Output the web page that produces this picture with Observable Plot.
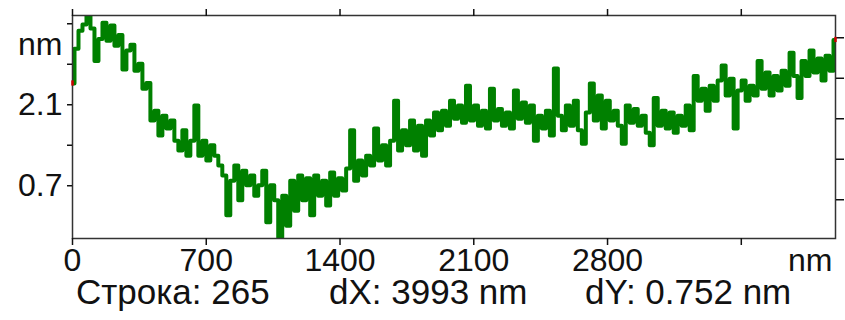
<!DOCTYPE html>
<html><head><meta charset="utf-8">
<script src="https://cdn.jsdelivr.net/npm/d3@7"></script>
<script src="https://cdn.jsdelivr.net/npm/@observablehq/plot@0.6"></script>
<style>
body{margin:0;background:#fff;}
#wrap{position:relative;width:845px;height:320px;font-family:"Liberation Sans",Arial,sans-serif;}
#wrap svg{position:absolute;left:0;top:0;}
.cap{position:absolute;top:281px;font-size:35px;line-height:0.6;color:#111;white-space:nowrap;}
</style></head><body><div id="wrap"></div>
<script>
// Profile heights (nm), evenly sampled along the 3993 nm scan line
const heights = [
2.71,3.31,3.62,3.73,3.88,3.66,3.10,3.48,3.76,3.45,3.71,3.36,3.55,2.95,3.28,3.38,2.93,3.05,2.62,2.72,
2.07,2.24,1.81,2.15,1.93,2.07,1.72,1.55,1.90,1.46,1.72,2.33,1.46,1.72,1.38,1.64,1.46,1.29,1.12,0.43,
1.03,1.29,0.69,1.20,0.95,1.12,0.77,0.95,1.20,0.31,0.95,0.69,0.05,0.77,0.25,1.03,0.51,1.12,0.69,1.07,
0.43,1.12,0.77,1.03,0.60,1.17,0.77,1.07,0.86,1.24,1.90,1.03,1.38,1.12,1.46,1.29,1.93,1.38,1.64,1.29,
1.72,2.41,1.55,1.90,1.64,2.07,1.55,1.98,1.46,2.07,1.81,2.21,1.90,2.24,1.98,2.41,2.10,2.33,2.03,2.67,
2.07,2.33,1.98,2.24,1.93,2.62,2.07,2.27,1.98,2.21,1.93,2.59,2.10,2.38,2.03,2.33,1.72,2.15,1.93,2.24,
1.81,2.97,2.15,1.90,2.33,1.98,2.41,1.90,1.67,2.21,2.71,2.07,2.50,1.93,2.41,2.07,2.24,1.98,1.67,2.33,
2.03,2.27,1.98,2.15,1.86,1.64,2.46,1.98,2.24,1.93,2.21,1.86,2.15,1.98,2.33,1.90,2.84,2.41,2.62,2.24,
2.67,2.41,2.76,3.02,2.50,2.79,1.93,2.59,2.76,2.41,2.67,2.50,3.10,2.62,2.90,2.50,2.84,2.59,2.93,2.67,
3.24,2.84,2.46,3.10,2.84,3.28,2.90,3.14,2.76,3.19,2.93,3.46
];
const profileLength = 3993;          // nm
const yDomain = [0.03, 3.885];       // nm
const xTicks = [0, 700, 1400, 2100, 2800, 3500];
const xTickLabels = ["0", "700", "1400", "2100", "2800", ""];
const yTicks = [0.7, 1.4, 2.1, 2.8, 3.5];
const yTickLabels = ["0.7", "", "2.1", "", ""];
const unit = "nm";
const cursorHeights = [2.71, 3.462];  // left / right cursor, dY = 0.752
const captions = ["Строка: 265", "dX: 3993 nm", "dY: 0.752 nm"];
const captionLeft = [76, 329, 585];

const step = profileLength / (heights.length - 1);
const data = heights.map((h, i) => ({x: i * step, y: h}));
const xLab = new Map(xTicks.map((t, i) => [t, xTickLabels[i]]));
const yLab = new Map(yTicks.map((t, i) => [t, yTickLabels[i]]));
const cursors = [{x: 0, y: cursorHeights[0]}, {x: profileLength, y: cursorHeights[1]}];

const chart = Plot.plot({
  width: 845, height: 320,
  marginLeft: 72, marginRight: 10, marginTop: 15, marginBottom: 82,
  style: {fontFamily: "'Liberation Sans', Arial, sans-serif", fontSize: "32px", color: "#111", background: "#fff", overflow: "visible"},
  x: {domain: [0, profileLength]},
  y: {domain: yDomain},
  marks: [
    Plot.line(data, {x: "x", y: "y", curve: "step", stroke: "#008000", strokeWidth: 4, clip: true}),
    Plot.frame({stroke: "#333", strokeWidth: 1.5}),
    Plot.axisX(xTicks, {anchor: "bottom", tickSize: 7, tickPadding: 3, strokeWidth: 1.5, tickFormat: d => xLab.get(d), label: null}),
    Plot.axisX(xTicks, {anchor: "top", tickSize: 7, strokeWidth: 1.5, tickFormat: () => "", label: null}),
    Plot.axisY(yTicks, {anchor: "left", tickSize: 5, tickPadding: 5, strokeWidth: 1.5, dy: -14, tickFormat: d => yLab.get(d), label: null}),
    Plot.axisY(yTicks, {anchor: "right", tickSize: 8, strokeWidth: 1.5, tickFormat: () => "", label: null}),
    Plot.text([unit], {frameAnchor: "top-left", text: d => d, textAnchor: "end", dx: -10, dy: 17, fill: "#111"}),
    Plot.text([unit], {frameAnchor: "bottom-right", text: d => d, textAnchor: "end", lineAnchor: "top", dx: -3, dy: 10, fill: "#111"}),
    Plot.ruleX(cursors, {x: "x", y1: d => d.y - 0.045, y2: d => d.y + 0.045, stroke: "#d00000", strokeWidth: 2.5})
  ]
});
const wrap = document.getElementById("wrap");
wrap.appendChild(chart);
captions.forEach((c, i) => {
  const s = document.createElement("span");
  s.className = "cap";
  s.style.left = captionLeft[i] + "px";
  s.textContent = c;
  wrap.appendChild(s);
});
</script></body></html>
